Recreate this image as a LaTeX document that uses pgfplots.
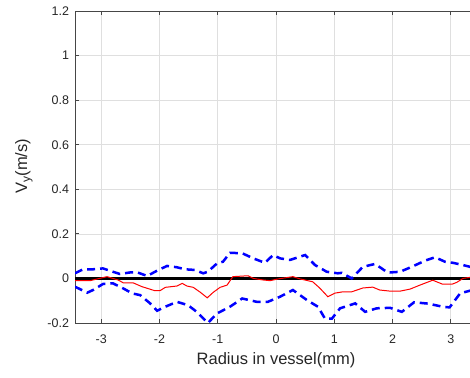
\documentclass[border=0pt]{standalone}
\usepackage{pgfplots}
\pgfplotsset{compat=1.18}
\usepackage{fontspec}
\setmainfont{Liberation Sans}
\definecolor{axgray}{RGB}{70,70,70}
\definecolor{txtgray}{RGB}{38,38,38}
\begin{document}
\begin{tikzpicture}
\useasboundingbox (-75pt,-54pt) rectangle (395pt,323pt);
\begin{axis}[
  at={(0pt,0pt)}, anchor=south west,
  scale only axis, width=395pt, height=312pt,
  xmin=-3.45, xmax=3.33, ymin=-0.2, ymax=1.2,
  axis x line*=box, axis y line*=left,
  xtick={-3,-2,-1,0,1,2,3},
  ytick={-0.2,0,0.2,0.4,0.6,0.8,1,1.2},
  yticklabels={-0.2,0,0.2,0.4,0.6,0.8,1,1.2},
  xticklabels={-3,-2,-1,0,1,2,3},
  tick align=inside,
  major tick length=4pt,
  grid=major,
  major grid style={gray!25, line width=0.6pt},
  axis line style={axgray, line width=0.8pt},
  every tick/.style={axgray, line width=0.8pt},
  tick label style={font=\fontsize{12.5}{14}\selectfont, text=txtgray},
  xticklabel style={yshift=-8pt},
  yticklabel style={xshift=-2.5pt},
  label style={font=\fontsize{16.5}{18}\selectfont, text=txtgray},
  xlabel={Radius in vessel(mm)},
  ylabel={V\raisebox{-0.35ex}{\fontsize{12}{14}\selectfont y}(m/s)},
  xlabel style={at={(axis description cs:0.5088,-0.1346)}, anchor=base},
  ylabel style={at={(axis description cs:-0.1215,0.503)}, anchor=base, rotate=0},
  clip=true,
]
\addplot[black, line width=3pt] coordinates {(-3.6,0) (3.6,0)};
\addplot[red, line width=1pt] coordinates {
(-3.45,-0.01) (-3.19,-0.01) (-2.90,0.008) (-2.71,-0.007) (-2.62,-0.02) (-2.45,-0.02)
(-2.30,-0.037) (-2.08,-0.055) (-1.99,-0.055) (-1.90,-0.04) (-1.70,-0.034) (-1.61,-0.022)
(-1.53,-0.034) (-1.42,-0.04) (-1.30,-0.062) (-1.18,-0.087) (-1.08,-0.063) (-0.96,-0.04)
(-0.84,-0.03) (-0.77,-0.003) (-0.74,0.008) (-0.48,0.012) (-0.39,0) (-0.22,-0.007)
(-0.10,-0.01) (0.02,-0.003) (0.29,0.008) (0.41,-0.002) (0.63,-0.015) (0.75,-0.043)
(0.89,-0.082) (1.01,-0.066) (1.15,-0.06) (1.30,-0.06) (1.39,-0.052) (1.49,-0.043)
(1.66,-0.039) (1.78,-0.052) (1.96,-0.057) (2.13,-0.057) (2.30,-0.048) (2.47,-0.03)
(2.69,-0.008) (2.86,-0.026) (3.02,-0.026) (3.10,-0.018) (3.21,0) (3.33,0.005) (3.45,0.005)
};
\addplot[blue, line width=2.5pt, dash pattern=on 8pt off 5pt] coordinates {
(-3.45,0.023) (-3.31,0.041) (-3.14,0.041) (-2.97,0.045) (-2.80,0.03) (-2.68,0.02)
(-2.50,0.027) (-2.38,0.027) (-2.21,0.011) (-2.04,0.035) (-1.87,0.056) (-1.70,0.05)
(-1.56,0.041) (-1.39,0.038) (-1.25,0.023) (-1.17,0.03) (-1.01,0.068) (-0.91,0.075)
(-0.79,0.115) (-0.58,0.113) (-0.39,0.09) (-0.19,0.07) (-0.05,0.105) (0.07,0.09)
(0.24,0.083) (0.50,0.105) (0.67,0.06) (0.87,0.03) (1.06,0.023) (1.13,0.025)
(1.30,0.0) (1.49,0.052) (1.70,0.065) (1.92,0.026) (2.13,0.03) (2.33,0.052)
(2.56,0.08) (2.73,0.095) (2.90,0.075) (3.04,0.07) (3.21,0.06) (3.33,0.052) (3.45,0.045)
};
\addplot[blue, line width=2.5pt, dash pattern=on 8pt off 5pt] coordinates {
(-3.45,-0.037) (-3.24,-0.064) (-3.14,-0.052) (-2.97,-0.025) (-2.80,-0.022) (-2.62,-0.045)
(-2.47,-0.067) (-2.33,-0.075) (-2.16,-0.112) (-2.04,-0.145) (-1.90,-0.127) (-1.70,-0.105)
(-1.51,-0.12) (-1.36,-0.15) (-1.17,-0.2) (-1.01,-0.157) (-0.79,-0.127) (-0.58,-0.09)
(-0.33,-0.105) (-0.14,-0.105) (0.07,-0.082) (0.29,-0.052) (0.53,-0.097) (0.72,-0.127)
(0.84,-0.18) (0.96,-0.18) (1.10,-0.134) (1.36,-0.112) (1.53,-0.15) (1.73,-0.134)
(1.96,-0.132) (2.16,-0.15) (2.37,-0.107) (2.61,-0.113) (2.86,-0.127) (2.98,-0.13)
(3.16,-0.067) (3.33,-0.055) (3.45,-0.05)
};
\end{axis}
\end{tikzpicture}
\end{document}
